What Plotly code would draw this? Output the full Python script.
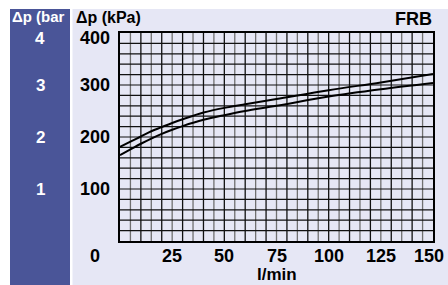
import plotly.graph_objects as go

flow = [0, 5, 10, 15, 20, 25, 30, 40, 50, 60, 75, 100, 125, 150]
upper = [181, 191, 201, 211, 219, 227, 234, 247, 256, 263, 273, 290, 305, 321]
lower = [165, 176, 187, 197, 206, 214, 221, 233, 242, 250, 260, 278, 292, 304]

x_ticks = [25, 50, 75, 100, 125, 150]
y_ticks = [100, 200, 300, 400]
bar_labels = ["1", "2", "3", "4"]

W, H = 448, 285
ML, MR, MT, MB = 120, 15, 33, 44
PW, PH = W - ML - MR, H - MT - MB

def px(x):
    return (x - ML) / PW

def py(y):
    return (H - MB - y) / PH

BLUE = "#4a5598"
LAV = "#e6e7f5"
FONT = "Liberation Sans, Arial, sans-serif"

fig = go.Figure()
fig.add_trace(go.Scatter(x=flow, y=upper, mode="lines", line=dict(color="black", width=2, shape="spline"), showlegend=False))
fig.add_trace(go.Scatter(x=flow, y=lower, mode="lines", line=dict(color="black", width=2, shape="spline"), showlegend=False))

shapes = []
shapes.append(dict(type="rect", xref="paper", yref="paper", x0=px(72.5), x1=px(W + 2), y0=py(H + 2), y1=py(9),
                   fillcolor=LAV, line=dict(width=0), layer="below"))
shapes.append(dict(type="rect", xref="paper", yref="paper", x0=px(10), x1=px(70), y0=py(H + 2), y1=py(9),
                   fillcolor=BLUE, line=dict(width=0), layer="below"))
for v in range(5, 150, 5):
    col = "#111111" if v % 10 == 0 else "#707070"
    shapes.append(dict(type="line", xref="x", yref="y", x0=v, x1=v, y0=0, y1=400,
                       line=dict(color=col, width=1.3), layer="below"))
for v in range(20, 400, 20):
    shapes.append(dict(type="line", xref="x", yref="y", x0=0, x1=150, y0=v, y1=v,
                       line=dict(color="#111111", width=1.2), layer="below"))

annotations = []
for lab, val in zip(bar_labels, y_ticks):
    shift = -5 if val == 400 else 0
    annotations.append(dict(x=px(40), y=val, yshift=shift, xref="paper", yref="y", text=lab, showarrow=False,
                            font=dict(family=FONT, size=17, color="white", weight="bold"),
                            xanchor="center", yanchor="middle"))
    annotations.append(dict(x=px(112), y=val, yshift=shift, xref="paper", yref="y", text=str(val), showarrow=False,
                            font=dict(family=FONT, size=18, color="black", weight="bold"),
                            xanchor="right", yanchor="middle"))
for val in x_ticks:
    last = val == x_ticks[-1]
    annotations.append(dict(x=val, xshift=(13 if last else 0), y=py(256), xref="x", yref="paper", text=str(val),
                            showarrow=False, font=dict(family=FONT, size=18, color="black", weight="bold"),
                            xanchor=("right" if last else "center"), yanchor="middle"))
annotations.append(dict(x=px(10), y=py(16), xref="paper", yref="paper", text="Δp (bar", showarrow=False,
                        font=dict(family=FONT, size=15, color="white", weight="bold"),
                        xanchor="left", yanchor="middle"))
annotations.append(dict(x=px(74), y=py(17), xref="paper", yref="paper", text="Δp (kPa)", showarrow=False,
                        font=dict(family=FONT, size=16, color="black", weight="bold"),
                        xanchor="left", yanchor="middle"))
annotations.append(dict(x=px(434), y=py(19), xref="paper", yref="paper", text="FRB", showarrow=False,
                        font=dict(family=FONT, size=18, color="black", weight="bold"),
                        xanchor="right", yanchor="middle"))
annotations.append(dict(x=px(95), y=py(256), xref="paper", yref="paper", text="0", showarrow=False,
                        font=dict(family=FONT, size=18, color="black", weight="bold"),
                        xanchor="center", yanchor="middle"))
annotations.append(dict(x=px(277), y=py(274), xref="paper", yref="paper", text="l/min", showarrow=False,
                        font=dict(family=FONT, size=17, color="black", weight="bold"),
                        xanchor="center", yanchor="middle"))

fig.update_layout(
    width=W, height=H,
    margin=dict(l=ML, r=MR, t=MT, b=MB, pad=0, autoexpand=False),
    paper_bgcolor="white", plot_bgcolor=LAV,
    shapes=shapes, annotations=annotations,
    xaxis=dict(range=[0, 150], showticklabels=False, showgrid=False, zeroline=False,
               showline=True, mirror=True, linecolor="black", linewidth=1.5, ticks="",
               automargin=False),
    yaxis=dict(range=[0, 400], showticklabels=False, showgrid=False, zeroline=False,
               showline=True, mirror=True, linecolor="black", linewidth=1.5, ticks="",
               automargin=False),
)

fig.write_html("out.html", config={"displayModeBar": False},
               post_script="document.body.style.margin='0';document.body.style.padding='0';")
